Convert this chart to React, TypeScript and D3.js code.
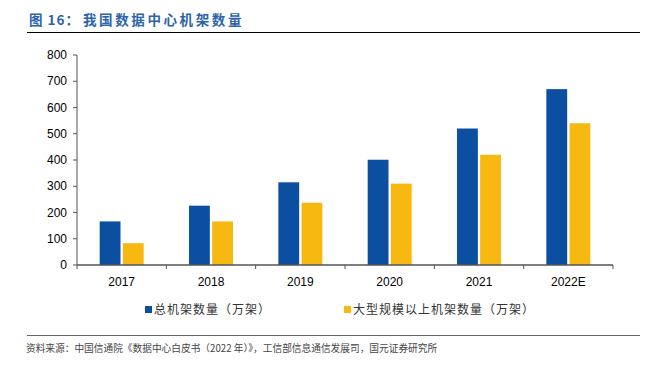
import React from "react";
import * as d3 from "d3";

const categories = ["2017", "2018", "2019", "2020", "2021", "2022E"];
const totalRacks = [166, 226, 315, 401, 520, 670];
const largeRacks = [83, 166, 237, 310, 420, 540];
const yTicks = [0, 100, 200, 300, 400, 500, 600, 700, 800];
const seriesNames = ["总机架数量（万架）", "大型规模以上机架数量（万架）"];
const titlePrefix = "图 16：";
const titleMain = "我国数据中心机架数量";
const source = "资料来源：中国信通院《数据中心白皮书（2022 年）》，工信部信息通信发展司，国元证券研究所";

const BLUE = "#0c4fa0";
const YELLOW = "#f8b812";
const CJK = "'Noto Sans CJK SC', sans-serif";
const NUM = "'Liberation Sans', Arial, sans-serif";

export default function App() {
  const W = 650, H = 365;
  const left = 77, right = 613, top = 55, bottom = 265;
  const x = d3.scaleBand<string>().domain(categories).range([left, right]).paddingInner(0).paddingOuter(0);
  const y = d3.scaleLinear().domain([0, 800]).range([bottom, top]);
  const inner = d3.scaleBand<number>().domain([0, 1]).range([0, 44]).paddingInner(0.1);
  const series = [totalRacks, largeRacks];
  const colors = [BLUE, YELLOW];
  const axisColor = "#555";

  return (
    <svg width={W} height={H} style={{ position: "absolute", left: 0, top: 0, background: "#fff" }}>
      <text y={25} fill="#2d63a8" fontFamily={CJK} fontWeight="bold" fontSize={13.5}>
        <tspan x={29} letterSpacing={1}>{titlePrefix}</tspan>
        <tspan x={83} letterSpacing={2.6}>{titleMain}</tspan>
      </text>
      <line x1={27} x2={640} y1={32.5} y2={32.5} stroke="#000" strokeWidth={1} />

      {yTicks.map((t) => (
        <g key={t}>
          <line x1={left - 4} x2={left} y1={y(t)} y2={y(t)} stroke={axisColor} />
          <text x={left - 10} y={y(t) + 4} textAnchor="end" fontFamily={NUM} fontSize={12} fill="#000">
            {t}
          </text>
        </g>
      ))}
      <line x1={left} x2={left} y1={top} y2={bottom} stroke={axisColor} />

      {categories.map((c, i) => {
        const cx = (x(c) as number) + x.bandwidth() / 2;
        const start = cx - 22;
        return (
          <g key={c}>
            {series.map((s, k) => (
              <rect
                key={k}
                x={start + (inner(k) as number)}
                y={y(s[i])}
                width={inner.bandwidth()}
                height={bottom - y(s[i])}
                fill={colors[k]}
              />
            ))}
            <text x={cx} y={bottom + 21} textAnchor="middle" fontFamily={NUM} fontSize={12} fill="#000">
              {c}
            </text>
          </g>
        );
      })}
      {categories.concat([""]).map((c, i) => {
        const xv = left + i * x.bandwidth();
        return <line key={"t" + i} x1={xv} x2={xv} y1={bottom} y2={bottom + 4} stroke={axisColor} />;
      })}
      <line x1={left} x2={right} y1={bottom} y2={bottom} stroke={axisColor} strokeWidth={1.5} />

      {seriesNames.map((n, k) => {
        const lx = k === 0 ? 145 : 344;
        return (
          <g key={n}>
            <rect x={lx} y={306} width={7} height={7} fill={colors[k]} />
            <text x={lx + 9} y={314} fontFamily={CJK} fontSize={12} fill="#333" letterSpacing={1}>
              {n}
            </text>
          </g>
        );
      })}

      <line x1={27} x2={640} y1={335.5} y2={335.5} stroke="#666" strokeWidth={1} />
      <text x={26} y={352} fontFamily={CJK} fontSize={9.7} fill="#444">
        {source}
      </text>
    </svg>
  );
}
